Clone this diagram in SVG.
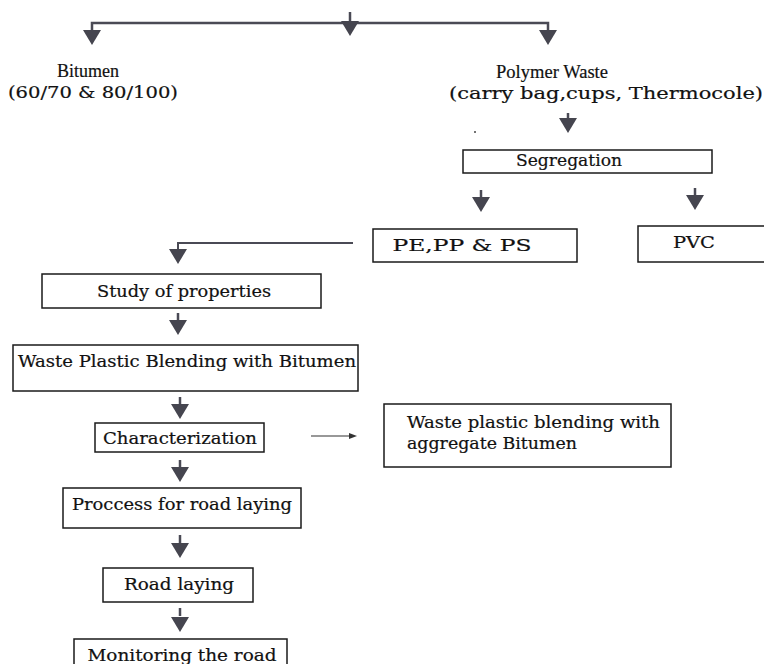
<svg xmlns="http://www.w3.org/2000/svg" xmlns:xlink="http://www.w3.org/1999/xlink" width="764" height="664" viewBox="0 0 764 664">
<style>
.box{fill:#fff;stroke:#1a1a1a;stroke-width:1.5}
.t{font-family:"DejaVu Serif","Liberation Serif",serif;font-size:16.5px;fill:#111;stroke:#111;stroke-width:0.2}
.n{font-family:"Liberation Serif","DejaVu Serif",serif;font-size:19px}
.ln{stroke:#4a4a55;stroke-width:2.5;fill:none}
.thin{stroke:#333;stroke-width:1.2;fill:none}
.ah{fill:#45454f}
</style>
<defs>
<polygon id="ah" class="ah" points="-9,0 9,0 0,15"/>
</defs>
<rect width="764" height="664" fill="#fff"/>
<g id="connectors">
<path class="ln" d="M92,31 V23 H548 V31"/>
<path class="ln" d="M350,12 V26"/>
<use xlink:href="#ah" x="92" y="30"/>
<use xlink:href="#ah" x="350" y="21"/>
<use xlink:href="#ah" x="548" y="30"/>
<path class="ln" d="M568,113 V120"/><use xlink:href="#ah" x="568" y="118"/>
<path class="ln" d="M481,190 V197"/><use xlink:href="#ah" x="481" y="197"/>
<path class="ln" d="M695,188 V195"/><use xlink:href="#ah" x="695" y="195"/>
<path class="ln" d="M353,243 H178 V251" style="stroke-width:2"/><use xlink:href="#ah" x="178" y="249"/>
<path class="ln" d="M178,313 V321"/><use xlink:href="#ah" x="178" y="320"/>
<path class="ln" d="M180,397 V405"/><use xlink:href="#ah" x="180" y="404"/>
<path class="ln" d="M180,460 V468"/><use xlink:href="#ah" x="180" y="467"/>
<path class="ln" d="M180,535 V543"/><use xlink:href="#ah" x="180" y="543"/>
<path class="ln" d="M180,608 V616"/><use xlink:href="#ah" x="180" y="617"/>
<path class="thin" d="M311,436 H350"/>
<polygon fill="#333" points="349,433 357,436 349,439"/>
<circle cx="475" cy="132" r="1" fill="#444"/>
</g>
<g id="bitumen">
<text class="t n" x="88" y="77" text-anchor="middle" textLength="62" lengthAdjust="spacingAndGlyphs">Bitumen</text>
<text class="t" x="93" y="98" text-anchor="middle" textLength="170" lengthAdjust="spacingAndGlyphs">(60/70 &amp; 80/100)</text>
</g>
<g id="polymer">
<text class="t n" x="552" y="78" text-anchor="middle" textLength="112" lengthAdjust="spacingAndGlyphs">Polymer Waste</text>
<text class="t" x="606" y="99" text-anchor="middle" textLength="314" lengthAdjust="spacingAndGlyphs">(carry bag,cups, Thermocole)</text>
</g>
<g id="segregation">
<rect class="box" x="463" y="150" width="249" height="23"/>
<text class="t" x="569" y="166" text-anchor="middle" textLength="106" lengthAdjust="spacingAndGlyphs">Segregation</text>
</g>
<g id="pe">
<rect class="box" x="373" y="229" width="204" height="33"/>
<text class="t" x="462" y="251" text-anchor="middle" textLength="139" lengthAdjust="spacingAndGlyphs">PE,PP &amp; PS</text>
</g>
<g id="pvc">
<rect class="box" x="638" y="226" width="140" height="36"/>
<text class="t" x="694" y="248" text-anchor="middle" textLength="42" lengthAdjust="spacingAndGlyphs">PVC</text>
</g>
<g id="study">
<rect class="box" x="42" y="274" width="279" height="34"/>
<text class="t" x="184" y="297" text-anchor="middle" textLength="174" lengthAdjust="spacingAndGlyphs">Study of properties</text>
</g>
<g id="blend">
<rect class="box" x="13" y="345" width="345" height="46"/>
<text class="t" x="187" y="367" text-anchor="middle" textLength="338" lengthAdjust="spacingAndGlyphs">Waste Plastic Blending with Bitumen</text>
</g>
<g id="characterization">
<rect class="box" x="95" y="423" width="169" height="29"/>
<text class="t" x="180" y="444" text-anchor="middle" textLength="154" lengthAdjust="spacingAndGlyphs">Characterization</text>
</g>
<g id="aggregate">
<rect class="box" x="384" y="404" width="287" height="63"/>
<text class="t" x="407" y="428" textLength="253" lengthAdjust="spacingAndGlyphs">Waste plastic blending with</text>
<text class="t" x="407" y="449" textLength="170" lengthAdjust="spacingAndGlyphs">aggregate Bitumen</text>
</g>
<g id="process">
<rect class="box" x="63" y="488" width="238" height="40"/>
<text class="t" x="182" y="510" text-anchor="middle" textLength="220" lengthAdjust="spacingAndGlyphs">Proccess for road laying</text>
</g>
<g id="road">
<rect class="box" x="103" y="568" width="150" height="34"/>
<text class="t" x="179" y="590" text-anchor="middle" textLength="110" lengthAdjust="spacingAndGlyphs">Road laying</text>
</g>
<g id="monitoring">
<rect class="box" x="74" y="639" width="213" height="40"/>
<text class="t" x="182" y="661" text-anchor="middle" textLength="189" lengthAdjust="spacingAndGlyphs">Monitoring the road</text>
</g>
</svg>
